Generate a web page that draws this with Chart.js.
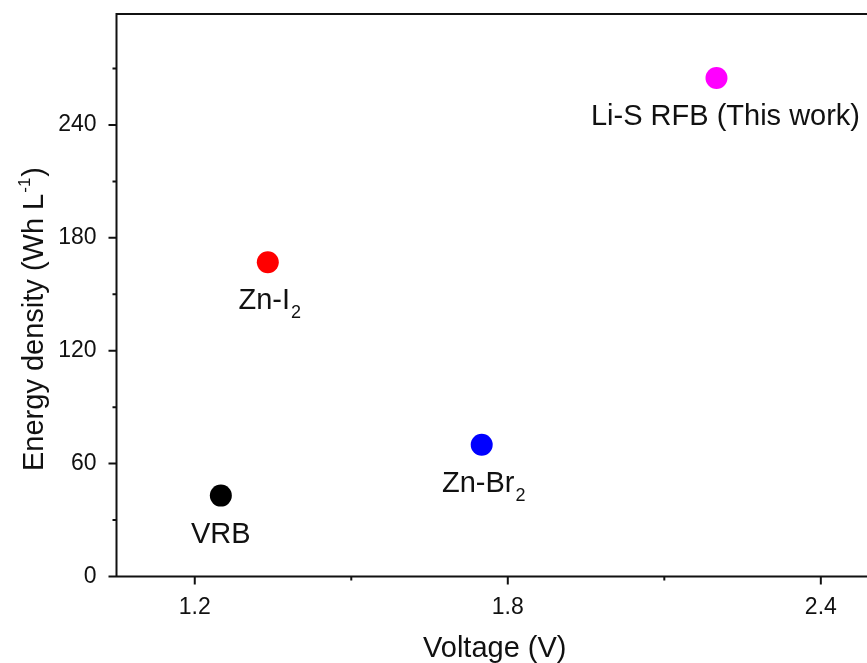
<!DOCTYPE html>
<html lang="en">
<head>
<meta charset="UTF-8">
<title>Energy density vs voltage</title>
<script src="https://cdn.jsdelivr.net/npm/chart.js"></script>
<style>
    html, body { margin: 0; padding: 0; background: #fff; overflow: hidden; }
    #chart { display: block; }
</style>
</head>
<body>
<canvas id="chart" width="884" height="663"></canvas>
<script>
// battery chemistries, label text + subscript part
const systems = ["VRB", "Zn-I", "Zn-Br", "Li-S RFB (This work)"];
const subscripts = ["", "2", "2", ""];
const voltages = [1.25, 1.34, 1.75, 2.2];     // V
const densities = [43, 167, 70, 265];         // Wh/L
const pointColors = ["#000000", "#ff0000", "#0000ff", "#ff00ff"];

const xMajor = [1.2, 1.8, 2.4];
const xMinor = [1.5, 2.1];
const yMajor = [0, 60, 120, 180, 240];
const yMinor = [30, 90, 150, 210, 270];

const FONT = "'Liberation Sans', Arial, sans-serif";
const INK = "#111111";

// small horizontal nudges for the point captions
const labelShift = [0, 2, 2, 9];

function tickList(major, minor) {
    return major.concat(minor).sort((a, b) => a - b).map(v => ({ value: v }));
}

const frame = {
    id: "frame",
    beforeDatasetsDraw(chart) {
        const { ctx, chartArea: a, scales: { x, y } } = chart;
        ctx.save();
        ctx.strokeStyle = INK;
        ctx.lineWidth = 2;
        ctx.beginPath();
        ctx.moveTo(a.left, a.bottom);
        ctx.lineTo(a.left, a.top);
        ctx.lineTo(a.right, a.top);
        ctx.lineTo(a.right, a.bottom);
        ctx.closePath();
        // x ticks, outward
        xMajor.forEach(v => { const p = x.getPixelForValue(v); ctx.moveTo(p, a.bottom); ctx.lineTo(p, a.bottom + 8); });
        xMinor.forEach(v => { const p = x.getPixelForValue(v); ctx.moveTo(p, a.bottom); ctx.lineTo(p, a.bottom + 4); });
        // y ticks, outward
        yMajor.forEach(v => { const p = y.getPixelForValue(v); ctx.moveTo(a.left, p); ctx.lineTo(a.left - 8, p); });
        yMinor.forEach(v => { const p = y.getPixelForValue(v); ctx.moveTo(a.left, p); ctx.lineTo(a.left - 4, p); });
        ctx.stroke();

        // axis titles
        ctx.fillStyle = INK;
        ctx.textBaseline = "alphabetic";
        ctx.font = "29px " + FONT;
        ctx.textAlign = "center";
        ctx.fillText("Voltage (V)", (a.left + a.right) / 2, 657);

        ctx.translate(33, 319);
        ctx.rotate(-Math.PI / 2);
        const head = "Energy density (Wh L";
        const sup = "-1";
        const tail = ")";
        ctx.textAlign = "left";
        const wHead = ctx.measureText(head).width;
        const wTail = ctx.measureText(tail).width;
        ctx.font = "17px " + FONT;
        const wSup = ctx.measureText(sup).width;
        let cx = -(wHead + wSup + wTail + 2) / 2;
        ctx.font = "29px " + FONT;
        ctx.fillText(head, cx, 10);
        cx += wHead + 1;
        ctx.font = "17px " + FONT;
        ctx.fillText(sup, cx, -3);
        cx += wSup + 1;
        ctx.font = "29px " + FONT;
        ctx.fillText(tail, cx, 10);
        ctx.restore();
    },
    afterDatasetsDraw(chart) {
        const { ctx } = chart;
        const pts = chart.getDatasetMeta(0).data;
        ctx.save();
        ctx.fillStyle = INK;
        ctx.textBaseline = "alphabetic";
        ctx.textAlign = "left";
        pts.forEach((pt, i) => {
            ctx.font = "29px " + FONT;
            const wMain = ctx.measureText(systems[i]).width;
            ctx.font = "18px " + FONT;
            const wSub = subscripts[i] ? ctx.measureText(subscripts[i]).width + 1 : 0;
            const x0 = pt.x + labelShift[i] - (wMain + wSub) / 2;
            const base = pt.y + 47;
            ctx.font = "29px " + FONT;
            ctx.fillText(systems[i], x0, base);
            if (subscripts[i]) {
                ctx.font = "18px " + FONT;
                ctx.fillText(subscripts[i], x0 + wMain + 1, base + 9);
            }
        });
        ctx.restore();
    }
};

new Chart(document.getElementById("chart"), {
    type: "scatter",
    data: {
        datasets: [{
            data: voltages.map((v, i) => ({ x: v, y: densities[i] })),
            pointBackgroundColor: pointColors,
            pointBorderWidth: 0,
            pointRadius: 11,
            pointHoverRadius: 11
        }]
    },
    options: {
        responsive: false,
        animation: false,
        events: [],
        layout: { padding: { top: 14, right: 9, left: 0, bottom: 0 } },
        plugins: {
            legend: { display: false },
            tooltip: { enabled: false }
        },
        scales: {
            x: {
                type: "linear",
                min: 1.05,
                max: 2.5,
                afterBuildTicks: s => { s.ticks = tickList(xMajor, xMinor); },
                afterFit: s => { s.height = 86.5; s.paddingLeft = 0; s.paddingRight = 0; },
                grid: { display: false },
                border: { display: false },
                ticks: {
                    callback: v => xMajor.includes(v) ? v.toFixed(1) : "",
                    font: { family: FONT, size: 23 },
                    color: INK,
                    padding: 9,
                    maxRotation: 0,
                    autoSkip: false
                }
            },
            y: {
                type: "linear",
                min: 0,
                max: 299,
                afterBuildTicks: s => { s.ticks = tickList(yMajor, yMinor); },
                afterFit: s => { s.width = 116.5; s.paddingTop = 0; s.paddingBottom = 0; },
                grid: { display: false },
                border: { display: false },
                ticks: {
                    callback: v => yMajor.includes(v) ? String(v) : "",
                    font: { family: FONT, size: 23 },
                    color: INK,
                    padding: 12,
                    autoSkip: false
                }
            }
        }
    },
    plugins: [frame]
});
</script>
</body>
</html>
